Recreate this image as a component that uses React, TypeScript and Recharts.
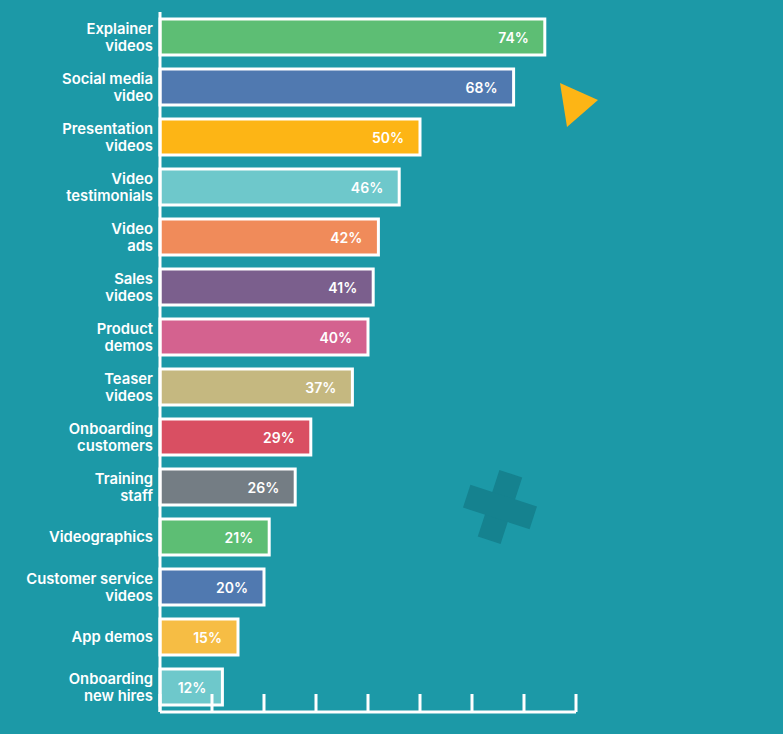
import React from 'react';
import { BarChart, Bar, XAxis, YAxis, Cell, LabelList } from 'recharts';

const categories = [
    'Explainer\nvideos',
    'Social media\nvideo',
    'Presentation\nvideos',
    'Video\ntestimonials',
    'Video\nads',
    'Sales\nvideos',
    'Product\ndemos',
    'Teaser\nvideos',
    'Onboarding\ncustomers',
    'Training\nstaff',
    'Videographics',
    'Customer service\nvideos',
    'App demos',
    'Onboarding\nnew hires',
];

const shares = [74, 68, 50, 46, 42, 41, 40, 37, 29, 26, 21, 20, 15, 12];

const barColors = [
    '#5dbe74', '#5079b0', '#fdb515', '#6ec8cb', '#f08b5a', '#7b5f8d', '#d4628f',
    '#c5b880', '#d94f62', '#747d84', '#5dbe74', '#5079b0', '#f6bd44', '#6ec8cb',
];

const xTicks = [0, 10, 20, 30, 40, 50, 60, 70, 80];

const data = categories.map((name, i) => ({ name, value: shares[i] }));

const FONT = 'Inter, "Noto Sans", sans-serif';

const CategoryTick = ({ x, y, payload }: any) => {
    const lines = String(payload.value).split('\n');
    const lineH = 17;
    const startY = y - ((lines.length - 1) * lineH) / 2;
    return (
        <text
            x={x + 1}
            y={startY}
            textAnchor="end"
            dominantBaseline="central"
            fill="#ffffff"
            fontFamily={FONT}
            fontSize={14.8}
            fontWeight={600}
        >
            {lines.map((l, i) => (
                <tspan key={i} x={x + 1} y={startY + i * lineH}>
                    {l}
                </tspan>
            ))}
        </text>
    );
};

const ValueLabel = ({ x, y, width, height, value }: any) => (
    <text
        x={x + width - 16}
        y={y + height / 2}
        textAnchor="end"
        dominantBaseline="central"
        fill="#ffffff"
        fontFamily={FONT}
        fontSize={14}
        fontWeight={600}
    >
        {value}%
    </text>
);

export default function App() {
    return (
        <div style={{ position: 'absolute', left: 0, top: 0, width: 783, height: 734, background: '#1c99a7' }}>
            <svg width={783} height={734} style={{ position: 'absolute', left: 0, top: 0 }}>
                <polygon points="560,83 598,100 567,127" fill="#fdb515" />
                <g transform="translate(500,507) rotate(18)" fill="#15828f">
                    <rect x={-12} y={-35} width={24} height={70} />
                    <rect x={-35} y={-12} width={70} height={24} />
                </g>
            </svg>
            <div style={{ position: 'absolute', left: 0, top: 0 }}>
                <BarChart
                    width={783}
                    height={734}
                    data={data}
                    layout="vertical"
                    barSize={36}
                    margin={{ top: 12, right: 207, left: 0, bottom: 22 }}
                >
                    <XAxis
                        type="number"
                        domain={[0, 80]}
                        ticks={xTicks}
                        height={1}
                        mirror
                        tickSize={18}
                        tick={{ fill: 'none' }}
                        tickFormatter={() => ''}
                        axisLine={{ stroke: '#ffffff', strokeWidth: 3 }}
                        tickLine={{ stroke: '#ffffff', strokeWidth: 3 }}
                    />
                    <YAxis
                        type="category"
                        dataKey="name"
                        width={160}
                        interval={0}
                        tick={<CategoryTick />}
                        tickLine={false}
                        axisLine={{ stroke: '#ffffff', strokeWidth: 3 }}
                    />
                    <Bar dataKey="value" stroke="#ffffff" strokeWidth={3} isAnimationActive={false}>
                        {data.map((d, i) => (
                            <Cell key={d.name} fill={barColors[i]} />
                        ))}
                        <LabelList dataKey="value" content={<ValueLabel />} />
                    </Bar>
                </BarChart>
            </div>
        </div>
    );
}
